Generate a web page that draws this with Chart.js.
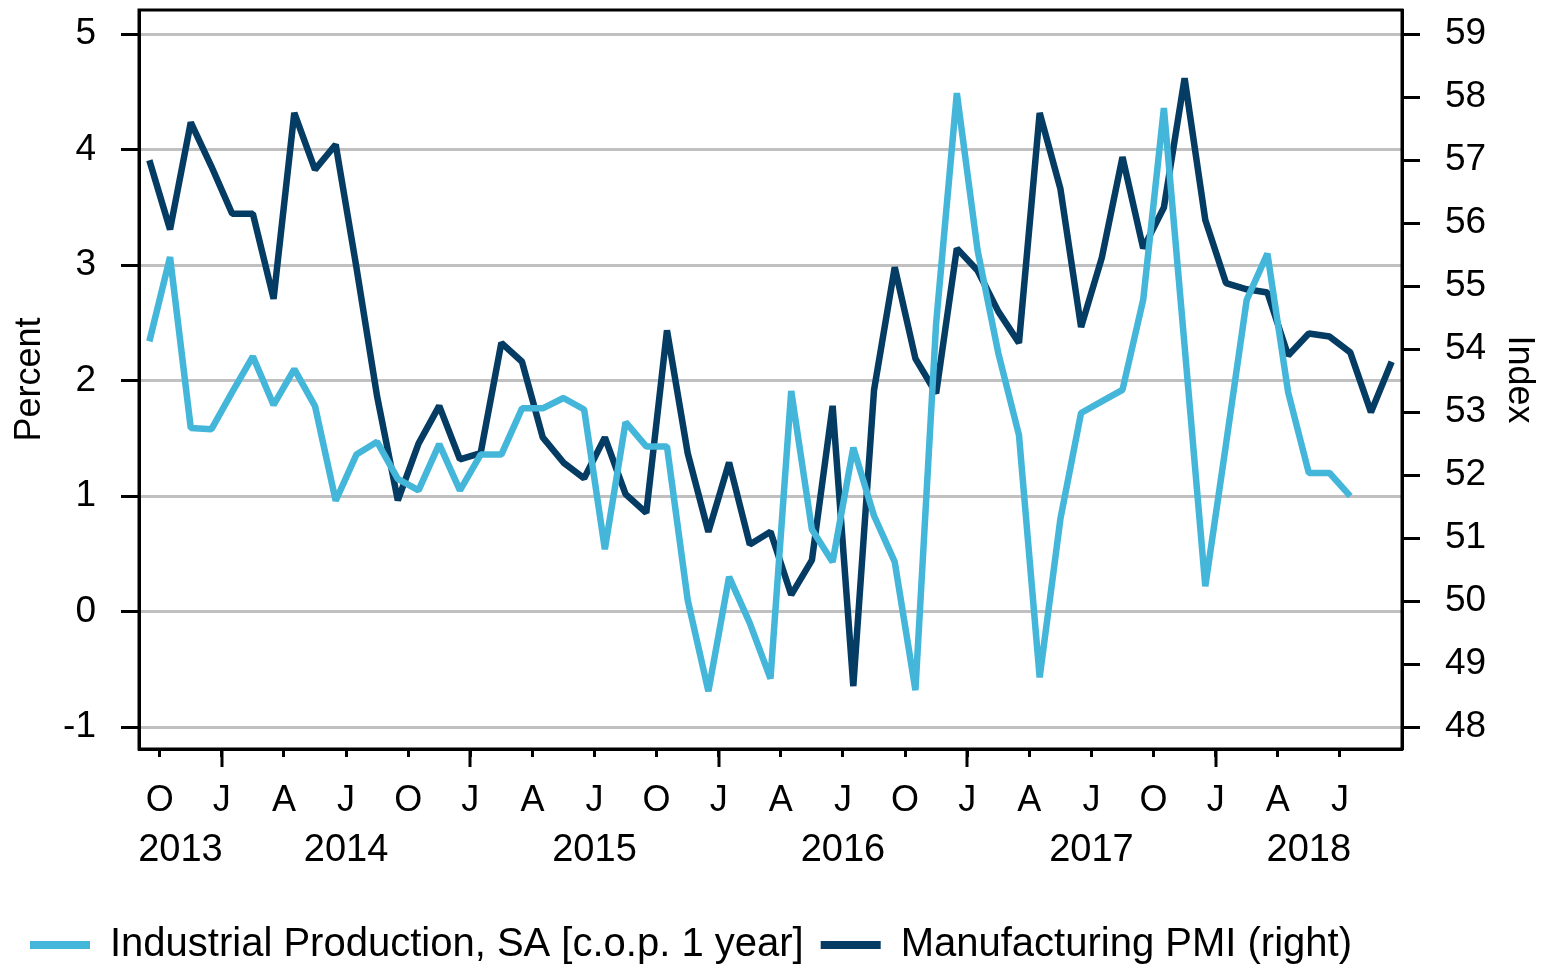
<!DOCTYPE html>
<html>
<head>
<meta charset="utf-8">
<title>Industrial Production vs Manufacturing PMI</title>
<script src="https://cdn.jsdelivr.net/npm/chart.js@4.4.1/dist/chart.umd.min.js"></script>
<style>
    html, body { margin: 0; padding: 0; background: #ffffff; }
    canvas { display: block; }
</style>
</head>
<body>
<canvas id="chartMain" width="1541" height="968"></canvas>
<script>
// ─────────────────────────────────────────────────────────
// DATA: monthly values, first point = September 2013
// ─────────────────────────────────────────────────────────
const firstYear  = 2013;
const firstMonth = 8;          // 0 = January, 8 = September
const totalMonths = 61;        // Sep 2013 .. Sep 2018 (axis ends 1 Oct 2018)

// Industrial Production, SA [c.o.p. 1 year] (left axis, percent), Sep 2013 - Jul 2018
const industrialProduction = [
    2.34, 3.07, 1.59, 1.58,
    1.90, 2.21, 1.79, 2.10, 1.78, 0.96, 1.36, 1.47, 1.15, 1.05, 1.45, 1.05,
    1.36, 1.36, 1.76, 1.76, 1.85, 1.75, 0.54, 1.64, 1.43, 1.43, 0.10, -0.69,
    0.30, -0.10, -0.58, 1.91, 0.71, 0.43, 1.42, 0.83, 0.43, -0.68, 2.50, 4.49,
    3.13, 2.24, 1.53, -0.57, 0.80, 1.72, 1.82, 1.92, 2.70, 4.36, 2.30, 0.22,
    1.45, 2.70, 3.10, 1.90, 1.20, 1.20, 1.00
];

// Manufacturing PMI (right axis, index), Sep 2013 - Sep 2018
const manufacturingPmi = [
    57.00, 55.90, 57.60, 56.90,
    56.15, 56.15, 54.80, 57.75, 56.85, 57.25, 55.30, 53.25, 51.60, 52.50, 53.10, 52.25,
    52.35, 54.10, 53.80, 52.60, 52.20, 51.95, 52.60, 51.70, 51.40, 54.30, 52.35, 51.10,
    52.20, 50.90, 51.10, 50.10, 50.65, 53.10, 48.65, 53.35, 55.30, 53.85, 53.30, 55.60,
    55.25, 54.60, 54.10, 57.75, 56.55, 54.35, 55.45, 57.05, 55.60, 56.25, 58.30, 56.05,
    55.05, 54.95, 54.90, 53.90, 54.25, 54.20, 53.95, 53.00, 53.80
];

const monthLetters = ['J', 'F', 'M', 'A', 'M', 'J', 'J', 'A', 'S', 'O', 'N', 'D'];
const yearLabels   = [2013, 2014, 2015, 2016, 2017, 2018];
const leftTicks    = [-1, 0, 1, 2, 3, 4, 5];
const rightTicks   = [48, 49, 50, 51, 52, 53, 54, 55, 56, 57, 58, 59];
const seriesNames  = ['Industrial Production, SA [c.o.p. 1 year]', 'Manufacturing PMI (right)'];

const colorLight = '#43b6d9';
const colorDark  = '#053c64';
const fontFamily = "'Liberation Sans', Arial, Helvetica, sans-serif";

// Points sit in the middle of each month
const toPoints = arr => arr.map((v, i) => ({ x: i + 0.5, y: v }));

// Quarter starts (Jan/Apr/Jul/Oct) inside the axis range
const quarterTicks = [];
for (let v = 1; v < totalMonths; v++) {
    if ((v + firstMonth) % 3 === 0) quarterTicks.push(v);
}

// Year label at the centre of the visible part of each year
const yearCentres = yearLabels.map(y => {
    const start = Math.max(0, (y - firstYear) * 12 - firstMonth);
    const end   = Math.min(totalMonths, (y - firstYear + 1) * 12 - firstMonth);
    return (start + end) / 2;
});

// No extra room for labels at the axis ends: keep the plot box fixed
const noEdgePadding = s => {
    s.paddingTop = 0; s.paddingBottom = 0;
    s.paddingLeft = 0; s.paddingRight = 0;
};

// ─────────────────────────────────────────────────────────
// Plugins: frame around the plot and long January ticks
// ─────────────────────────────────────────────────────────
const plotFrame = {
    id: 'plotFrame',
    afterDraw(chart) {
        const { ctx, chartArea: a } = chart;
        ctx.save();
        ctx.strokeStyle = '#000';
        ctx.lineWidth = 3;
        ctx.strokeRect(a.left, a.top, a.right - a.left, a.bottom - a.top);
        ctx.restore();
    }
};

const januaryTicks = {
    id: 'januaryTicks',
    afterDraw(chart) {
        const { ctx, chartArea: a } = chart;
        const sx = chart.scales.x;
        ctx.save();
        ctx.strokeStyle = '#000';
        ctx.lineWidth = 3;
        quarterTicks.forEach(v => {
            if ((v + firstMonth) % 12 !== 0) return;
            const px = Math.round(sx.getPixelForValue(v));
            ctx.beginPath();
            ctx.moveTo(px, a.bottom);
            ctx.lineTo(px, a.bottom + 18);
            ctx.stroke();
        });
        ctx.restore();
    }
};

// ─────────────────────────────────────────────────────────
// Chart
// ─────────────────────────────────────────────────────────
const ctx = document.getElementById('chartMain').getContext('2d');
new Chart(ctx, {
    type: 'line',
    data: {
        datasets: [
            {
                label: seriesNames[0],
                data: toPoints(industrialProduction),
                yAxisID: 'y',
                borderColor: colorLight,
                backgroundColor: colorLight,
                borderWidth: 6.5,
                borderJoinStyle: 'bevel',
                pointRadius: 0,
                tension: 0,
                fill: false
            },
            {
                label: seriesNames[1],
                data: toPoints(manufacturingPmi),
                yAxisID: 'y1',
                borderColor: colorDark,
                backgroundColor: colorDark,
                borderWidth: 6.5,
                borderJoinStyle: 'bevel',
                pointRadius: 0,
                tension: 0,
                fill: false
            }
        ]
    },
    options: {
        responsive: false,
        animation: false,
        events: [],
        layout: { padding: { left: 13, top: 10, right: 0, bottom: 0 } },
        plugins: {
            tooltip: { enabled: false },
            legend: {
                position: 'bottom',
                align: 'start',
                maxHeight: 60,
                labels: {
                    color: '#000',
                    font: { family: fontFamily, size: 40 },
                    boxWidth: 60,
                    boxHeight: 8,
                    padding: 17,
                    generateLabels: chart => chart.data.datasets.map((ds, i) => ({
                        text: ds.label,
                        fillStyle: ds.borderColor,
                        strokeStyle: ds.borderColor,
                        lineWidth: 0,
                        hidden: false,
                        datasetIndex: i,
                        fontColor: '#000'
                    }))
                }
            }
        },
        scales: {
            x: {
                type: 'linear',
                position: 'bottom',
                min: 0,
                max: totalMonths,
                weight: 0,
                afterBuildTicks: s => { s.ticks = quarterTicks.map(v => ({ value: v })); },
                afterFit: s => { s.height = 75; noEdgePadding(s); },
                grid: { drawOnChartArea: false, color: '#000', tickLength: 8, tickWidth: 3 },
                border: { display: true, color: '#000', width: 3 },
                ticks: {
                    autoSkip: false,
                    maxRotation: 0,
                    padding: 22,
                    color: '#000',
                    font: { family: fontFamily, size: 36 },
                    callback: v => monthLetters[(v + firstMonth) % 12]
                }
            },
            xYears: {
                type: 'linear',
                position: 'bottom',
                min: 0,
                max: totalMonths,
                weight: 1,
                afterBuildTicks: s => { s.ticks = yearCentres.map(v => ({ value: v })); },
                afterFit: s => { s.height = 84; noEdgePadding(s); },
                grid: { display: false, drawTicks: false },
                border: { display: false },
                ticks: {
                    autoSkip: false,
                    maxRotation: 0,
                    padding: 4,
                    color: '#000',
                    font: { family: fontFamily, size: 38 },
                    callback: v => yearLabels[yearCentres.indexOf(v)]
                }
            },
            y: {
                type: 'linear',
                position: 'left',
                min: -1.19,
                max: 5.21,
                afterBuildTicks: s => { s.ticks = leftTicks.map(v => ({ value: v })); },
                afterFit: s => { s.width = 126; noEdgePadding(s); },
                grid: { color: '#c0c0c0', lineWidth: 3, tickColor: '#000', tickLength: 18, tickWidth: 3 },
                border: { display: true, color: '#000', width: 3 },
                ticks: {
                    padding: 25,
                    color: '#000',
                    font: { family: fontFamily, size: 37 }
                },
                title: {
                    display: true,
                    text: 'Percent',
                    color: '#000',
                    padding: { top: -5, bottom: 0 },
                    font: { family: fontFamily, size: 36 }
                }
            },
            y1: {
                type: 'linear',
                position: 'right',
                min: 47.652,
                max: 59.385,
                afterBuildTicks: s => { s.ticks = rightTicks.map(v => ({ value: v })); },
                afterFit: s => { s.width = 139; noEdgePadding(s); },
                grid: { drawOnChartArea: false, color: '#000', tickLength: 18, tickWidth: 3 },
                border: { display: true, color: '#000', width: 3 },
                ticks: {
                    padding: 25,
                    color: '#000',
                    font: { family: fontFamily, size: 37 }
                },
                title: {
                    display: true,
                    text: 'Index',
                    color: '#000',
                    padding: { top: 0, bottom: 0 },
                    font: { family: fontFamily, size: 36 }
                }
            }
        }
    },
    plugins: [plotFrame, januaryTicks]
});
</script>
</body>
</html>
